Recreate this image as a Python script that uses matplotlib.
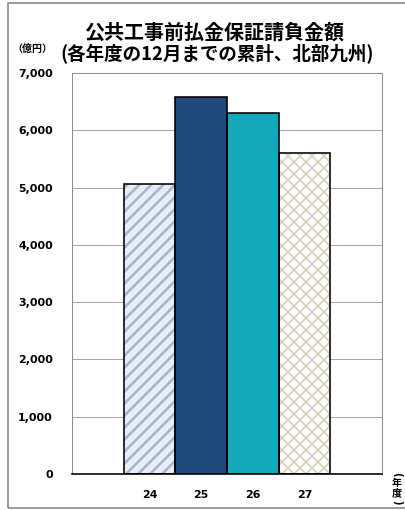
import matplotlib
matplotlib.use("Agg")
import matplotlib.pyplot as plt
from matplotlib.patches import Rectangle

plt.rcParams['font.family'] = ['Noto Sans CJK JP', 'DejaVu Sans']

# ---- data ----
years = ['24', '25', '26', '27']
values = [5060, 6575, 6295, 5605]
yticks = [0, 1000, 2000, 3000, 4000, 5000, 6000, 7000]
title1 = '公共工事前払金保証請負金額'
title2 = '(各年度の12月までの累計、北部九州)'
unit_label = '（億円）'
x_label_chars = ['(', '年', '度', ')']

W, H = 405, 510
DPI = 72
fig = plt.figure(figsize=(W / DPI, H / DPI), dpi=DPI)

L, R, T, B = 72, 382, 73, 474
ax = fig.add_axes([L / W, (H - B) / H, (R - L) / W, (B - T) / H])

x = list(range(len(years)))

# hatch / fill layers
face = ['#e6eef8', '#1f4a7c', '#12a9bc', '#ffffff']
hatch = ['//', None, None, 'xx']
hcol = ['#a9b5ca', '#1f4a7c', '#12a9bc', '#d6cfb6']
hlw = [2.6, 1.0, 1.0, 1.6]
for i in range(len(years)):
    plt.rcParams['hatch.linewidth'] = hlw[i]
    ax.bar(x[i], values[i], width=1.0, color=face[i], edgecolor=hcol[i],
           hatch=hatch[i], linewidth=0, zorder=2)
# outlines
ax.bar(x, values, width=1.0, fill=False, edgecolor='black', linewidth=1.6, zorder=3)

numfont = dict(family=['DejaVu Sans'], size=11, weight='bold')
ax.set_xlim(-1.5, 4.5)
ax.set_ylim(0, 7000)
ax.set_yticks(yticks)
ax.set_yticklabels([f'{v:,}' for v in yticks], **numfont)
ax.set_xticks(x)
ax.set_xticklabels(years, **numfont)
ax.tick_params(axis='y', length=0, pad=19)
ax.tick_params(axis='x', length=0, pad=16)

ax.yaxis.grid(True, color='#a6a6a6', linewidth=1.0, zorder=0)
ax.set_axisbelow(True)
for s in ['top', 'right', 'left']:
    ax.spines[s].set_color('#8c8c8c')
    ax.spines[s].set_linewidth(1.0)
ax.spines['bottom'].set_color('black')
ax.spines['bottom'].set_linewidth(1.6)

# titles and labels
fig.text(214 / W, 1 - 32 / H, title1, fontsize=20, fontweight='bold', ha='center', va='center')
fig.text(217 / W, 1 - 53 / H, title2, fontsize=18.5, fontweight='bold', ha='center', va='center')
fig.text(32 / W, 1 - 49 / H, unit_label, fontsize=10, fontweight='bold', ha='center', va='center')

# vertical "(年度)" label
ys = [474, 483, 493, 502]
rots = [-90, 0, 0, -90]
for ch, yy, rr in zip(x_label_chars, ys, rots):
    fig.text(397 / W, 1 - yy / H, ch, fontsize=10, fontweight='bold', ha='center', va='center',
             rotation=rr, family=['DejaVu Sans'] if ch in '()' else ['Noto Sans CJK JP'])

# outer frame
fig.patches.append(Rectangle((8 / W, 2 / H), 1.2, 1 - 5 / H, transform=fig.transFigure,
                             fill=False, edgecolor='#7f7f7f', linewidth=1.5))

fig.savefig('out.png', dpi=DPI)
